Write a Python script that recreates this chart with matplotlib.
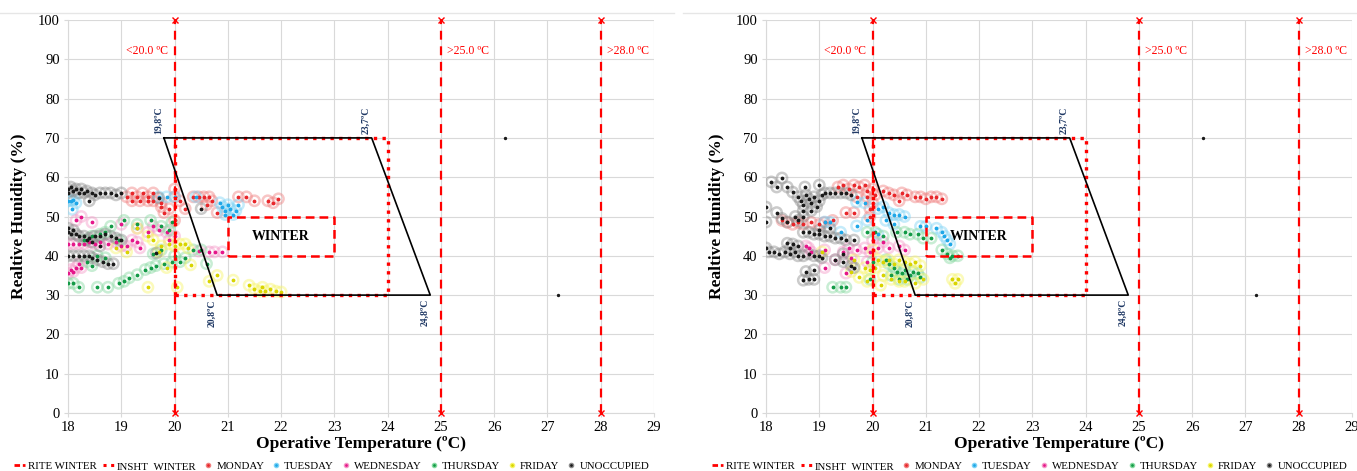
import numpy as np
import matplotlib
matplotlib.use("Agg")
import matplotlib.pyplot as plt
from matplotlib.lines import Line2D

plt.rcParams['font.family'] = ['Liberation Serif', 'DejaVu Serif']

# ---- data: left panel ----
L_mon_x = [19.1, 19.2, 19.3, 19.4, 19.5, 19.6, 19.5, 19.2, 19.35, 19.6, 19.75, 19.75, 19.8, 20.0, 20.1, 20.35,
           20.45, 20.55, 20.65, 20.7, 20.6, 21.2, 21.35, 21.5, 21.75, 21.85, 21.95, 20.2, 20.8, 20.0, 20.0, 19.9]
L_mon_y = [55, 56, 55, 56, 55, 56, 54, 54, 54, 54, 52.5, 53.5, 51, 55, 54, 55,
           55, 55, 55, 54, 53, 55, 55, 54, 54, 53.5, 54.5, 52, 51, 57, 49, 52]
L_tue_x = [18.0, 18.05, 18.1, 18.15, 18.08, 19.7, 19.85, 20.0, 20.4, 20.85, 20.9, 20.95, 21.0, 21.05, 21.1, 21.15, 21.2, 20.95]
L_tue_y = [54, 54, 54.2, 53.5, 51.8, 55, 55, 55, 55, 53.5, 52.5, 51.5, 53, 52, 50.5, 51.5, 53, 50.5]
L_wed_x = [18.0, 18.1, 18.2, 18.3, 18.4, 18.5, 18.6, 18.75, 18.9, 19.0, 19.1, 19.2, 19.3, 19.35,
           18.0, 18.05, 18.1, 18.15, 18.2, 18.25, 18.15, 18.25, 18.45,
           19.0, 19.3, 19.5, 19.7, 19.85, 19.9, 20.0, 20.65, 20.75, 20.9, 20.45, 19.6]
L_wed_y = [43, 43, 43, 43, 43.5, 43, 43.5, 43, 43.5, 42.5, 42.5, 44, 43.5, 42,
           35.5, 36.5, 36, 37, 38, 37, 49, 50, 48.5,
           48, 47, 46, 46.5, 46, 44, 45, 41, 41, 41, 41.2, 47.5]
L_thu_x = [18.0, 18.1, 18.2, 18.55, 18.75, 18.95, 19.05, 19.15, 19.3, 19.45, 19.55, 19.65, 19.8, 19.95, 20.1,
           20.6, 20.2, 20.35, 20.5, 19.6, 18.3, 18.45, 18.6, 18.7, 18.8, 18.95, 19.05, 19.3, 19.55, 19.75,
           19.9, 18.55, 18.7, 18.45, 18.35, 19.95, 19.75, 20.0]
L_thu_y = [33, 33, 32, 32, 32, 33, 33.5, 34.4, 35.2, 36.5, 37, 37.5, 38, 38.4, 38.5,
           38, 39.5, 41.5, 41.5, 40.5, 44, 45, 45.5, 46, 47.5, 44, 49, 48, 49, 47.5,
           46.5, 40, 39.5, 37.5, 38.5, 48.5, 41.5, 40]
L_fri_x = [19.3, 19.5, 19.6, 19.75, 19.9, 20.0, 20.1, 20.2, 20.25, 19.7, 20.3, 19.5, 20.8, 21.1, 21.4, 21.5,
           21.6, 21.7, 21.8, 21.9, 22.0, 21.65, 19.85, 20.05, 20.65, 19.1, 18.9]
L_fri_y = [47, 45, 44, 42.5, 43, 42.5, 43, 43, 42, 41, 37.7, 32, 35, 33.8, 32.5, 31.5,
           31, 31, 31.5, 31, 30.8, 32, 37, 32, 33.5, 41, 42]
L_uno_x = [18.0, 18.0, 18.05, 18.1, 18.15, 18.2, 18.25, 18.3, 18.35, 18.45, 18.5, 18.6, 18.7, 18.8, 18.9, 18.4,
           19.0, 19.7, 20.5,
           18.0, 18.0, 18.05, 18.1, 18.15, 18.2, 18.3, 18.35, 18.4, 18.5, 18.6, 18.7, 18.8, 18.9, 19.0, 18.45, 18.6,
           18.0, 18.1, 18.2, 18.3, 18.4, 18.45, 18.55, 18.65, 18.75, 18.85, 19.66]
L_uno_y = [57, 56, 57.5, 56.5, 57, 56, 57, 56, 56.5, 56, 55.5, 56, 56, 56, 55.5, 54,
           56, 54.7, 52,
           47, 46, 45.5, 46.5, 45.5, 45, 45, 44, 44.5, 45, 45, 45.5, 45, 44.5, 44, 43.5, 42.5,
           40, 40, 40, 40, 40, 39.5, 39, 38.5, 38, 38, 40.7]
# isolated unoccupied readings (drawn as plain dots)
L_out_x = [26.2, 27.2]
L_out_y = [70, 30]

# ---- data: right panel ----
R_mon_x = [19.35, 19.45, 19.55, 19.65, 19.75, 19.85, 19.9, 20.0, 19.7, 19.9, 20.05, 20.2, 20.3, 20.4, 20.55,
           20.65, 20.8, 20.9, 21.0, 21.1, 21.2, 21.3, 20.5, 19.5, 19.65, 18.4, 18.5, 18.6, 18.7, 18.85,
           19.0, 19.1, 19.25, 18.3, 19.95, 19.95, 20.0]
R_mon_y = [57.5, 58, 57, 58, 57.5, 58, 56.5, 57, 55, 55, 55.5, 56.5, 56, 55.5, 56,
           55.5, 55, 55, 54.5, 55, 55, 54.5, 54, 51, 51, 48.5, 48, 48.5, 48, 48.5,
           48, 48.5, 49, 49, 52, 50, 53.5]
R_tue_x = [19.7, 19.85, 19.1, 19.2, 19.7, 20.1, 20.2, 20.3, 20.4, 20.5, 20.6, 20.25, 20.4, 20.9, 21.0, 21.2,
           21.3, 21.35, 21.4, 21.45, 19.4, 20.1, 19.9]
R_tue_y = [53.7, 53.5, 48.6, 48.5, 47.6, 52, 52.5, 51, 50.5, 50.5, 50, 49, 48, 47.5, 47.5, 47,
           46, 45, 44, 43, 46, 45.5, 49]
R_wed_x = [18.8, 18.85, 19.1, 19.45, 19.55, 19.7, 19.85, 19.95, 20.1, 20.3, 20.5, 20.6, 19.5, 19.1, 19.3,
           19.6, 18.75, 20.2, 20.0, 19.9]
R_wed_y = [42, 41, 41.5, 41, 42, 41.5, 42, 41, 42, 42, 42.5, 41.5, 35.6, 37, 39,
           39.5, 42.5, 43.5, 44, 38.5]
R_thu_x = [19.25, 19.4, 19.5, 19.9, 20.05, 20.2, 20.45, 20.6, 20.7, 20.85, 20.95, 21.1, 21.3, 21.4, 21.5,
           21.6, 21.45, 20.3, 20.4, 20.45, 20.55, 20.6, 20.7, 20.75, 20.85, 20.9, 20.65, 20.5, 20.35,
           19.95, 20.25, 20.0]
R_thu_y = [32, 32, 32, 46, 46, 45, 46, 46, 45.5, 45.5, 44.5, 44.5, 41.5, 40.5, 40,
           40, 39.5, 38, 37, 36, 35.5, 36.5, 35, 36, 35.5, 34.5, 34, 34, 35,
           34, 39, 38.5]
R_fri_x = [19.05, 19.85, 19.95, 20.05, 20.1, 20.2, 20.3, 20.4, 20.5, 20.6, 20.7, 20.8, 20.9, 20.2, 20.35,
           20.5, 20.6, 20.8, 20.95, 21.5, 21.55, 21.6, 19.6, 19.75, 19.9, 20.0, 19.65, 20.15]
R_fri_y = [41, 37, 36.5, 37, 39, 38.5, 39, 38, 39, 38.5, 38, 38.5, 37.5, 35, 34,
           33.5, 33.5, 33, 34, 34, 33, 34, 36, 34.5, 33.5, 41.5, 39, 32.5]
R_uno_x = [18.1, 18.3, 18.2, 18.4, 18.5, 18.73, 19.0,
           18.6, 18.65, 18.7, 18.75, 18.8, 18.85, 18.9, 18.95, 19.0, 19.05, 18.85, 18.7, 19.1, 19.2, 19.3,
           19.4, 19.5, 19.6,
           18.0, 18.0, 18.2, 18.3, 18.4, 18.55, 18.7, 18.6,
           18.7, 18.8, 18.9, 19.0, 19.1, 19.2, 19.3, 19.4, 19.5, 19.65, 19.0, 19.2,
           18.0, 18.05, 18.15, 18.25, 18.35, 18.45, 18.55, 18.6, 18.7, 18.8, 18.9, 19.0, 19.05, 18.4, 18.5,
           18.6, 18.45,
           19.3, 19.45, 19.6, 19.65, 18.7, 18.8, 18.9, 18.9, 18.75, 19.45]
R_uno_y = [58.8, 59.8, 57.5, 57.5, 56.2, 57.5, 58,
           55, 54, 53, 55.5, 54.5, 53.5, 55, 52.5, 54, 55.5, 51.5, 51.5, 56, 56, 56,
           56, 56, 55.5,
           52.4, 48.6, 51, 49.5, 48.6, 50, 50, 49,
           46, 46, 45.5, 45.5, 45, 45, 44.5, 44.5, 44, 44, 46.5, 47,
           42, 41, 41, 40.5, 41, 40.5, 41, 40, 40, 40.5, 40, 40, 39.5, 43.2, 43,
           42.5, 42,
           39, 38.5, 37.5, 37, 33.8, 34, 34, 36.4, 36, 40.5]
R_out_x = [26.2, 27.2]
R_out_y = [70, 30]

# comfort zone polygon and reference boxes
zone_x = [19.8, 23.7, 24.8, 20.8, 19.8]
zone_y = [70, 70, 30, 30, 70]
insht_x = [20, 24, 24, 20, 20]
insht_y = [30, 30, 70, 70, 30]
winter_x = [21, 23, 23, 21, 21]
winter_y = [40, 40, 50, 50, 40]
rite_lines = [20, 25, 28]
rite_labels = ["<20.0 ºC", ">25.0 ºC", ">28.0 ºC"]

day_names = ["MONDAY", "TUESDAY", "WEDNESDAY", "THURSDAY", "FRIDAY", "UNOCCUPIED"]
ring_cols = ["#f08080", "#7fd3f5", "#f59ac8", "#86d9a0", "#f7f56a", "#8c8c8c"]
dot_cols = ["#e8262a", "#1ea7e8", "#e5168a", "#129a46", "#d8d400", "#1a1a1a"]
navy = "#1f3864"
red = "#ff0000"

panels = [
    ([(L_mon_x, L_mon_y), (L_tue_x, L_tue_y), (L_wed_x, L_wed_y),
      (L_thu_x, L_thu_y), (L_fri_x, L_fri_y), (L_uno_x, L_uno_y)], (L_out_x, L_out_y)),
    ([(R_mon_x, R_mon_y), (R_tue_x, R_tue_y), (R_wed_x, R_wed_y),
      (R_thu_x, R_thu_y), (R_fri_x, R_fri_y), (R_uno_x, R_uno_y)], (R_out_x, R_out_y)),
]

fig = plt.figure(figsize=(13.57, 4.71), dpi=100)
lefts = [68 / 1357, 766 / 1357]

for k, (series, outl) in enumerate(panels):
    ax = fig.add_axes([lefts[k], 58 / 471, 586 / 1357, 393 / 471])

    ax.set_xlim(18, 29)
    ax.set_ylim(0, 100)
    ax.set_xticks(range(18, 30))
    ax.set_yticks(range(0, 101, 10))
    ax.grid(color="#d9d9d9", lw=0.8)
    ax.set_axisbelow(True)
    for s in ["top", "right"]:
        ax.spines[s].set_visible(False)
    for s in ["left", "bottom"]:
        ax.spines[s].set_color("#d9d9d9")
    ax.tick_params(length=3, color="#d9d9d9", labelsize=10.5, pad=3)

    # data points: light ring + small centre dot
    for (xs, ys), rc, dc in zip(series, ring_cols, dot_cols):
        ax.scatter(xs, ys, s=55, facecolors="none", edgecolors=rc, alpha=0.45, lw=1.8, zorder=3)
        ax.scatter(xs, ys, s=3, color=dc, zorder=4)
    ax.scatter(outl[0], outl[1], s=2, color="#1a1a1a", zorder=4)

    # RITE limits
    for xv, lab in zip(rite_lines, rite_labels):
        ax.plot([xv, xv], [0, 100], color=red, ls=(0, (4, 3)), lw=1.6, zorder=5)
        ax.plot([xv, xv], [0, 100], ls="none", color=red, marker="x", ms=4, mew=1, zorder=5, clip_on=False)
        if xv == 20:
            ax.text(xv - 0.12, 92, lab, color=red, fontsize=8.5, ha="right", va="center")
        else:
            ax.text(xv + 0.12, 92, lab, color=red, fontsize=8.5, ha="left", va="center")

    ax.plot(insht_x, insht_y, color=red, ls=(0, (1, 1.6)), lw=2.4, zorder=5)
    ax.plot(zone_x, zone_y, color="black", lw=1.2, zorder=6)
    ax.plot(winter_x, winter_y, color=red, ls=(0, (3.5, 2)), lw=1.8, zorder=5)
    ax.text(22.0, 45, "WINTER", fontsize=10, fontweight="bold", ha="center", va="center", zorder=7)

    # corner labels
    ax.text(19.7, 71, "19,8ºC", color=navy, fontsize=7, fontweight="bold", rotation=90, ha="center", va="bottom")
    ax.text(23.6, 71, "23,7ºC", color=navy, fontsize=7, fontweight="bold", rotation=90, ha="center", va="bottom")
    ax.text(20.7, 29, "20,8ºC", color=navy, fontsize=7, fontweight="bold", rotation=90, ha="center", va="top")
    ax.text(24.7, 29, "24,8ºC", color=navy, fontsize=7, fontweight="bold", rotation=90, ha="center", va="top")

    ax.set_xlabel("Operative Temperature (ºC)", fontsize=12.5, fontweight="bold", labelpad=1)
    ax.set_ylabel("Realtive Hunidity (%)", fontsize=12.5, fontweight="bold", labelpad=8)

    # legend
    handles = [
        Line2D([], [], color=red, ls=(0, (2, 1)), lw=2),
        Line2D([], [], color=red, ls=(0, (1, 1.5)), lw=2.2),
    ]
    for rc, dc in zip(ring_cols, dot_cols):
        handles.append(Line2D([], [], ls="none", marker="o", ms=3, mfc=dc, mec=rc, mew=1))
    labels = ["RITE WINTER", "INSHT_WINTER"] + day_names
    ax.legend(handles, labels, loc="center", bbox_to_anchor=(0.45, -0.135), ncol=8, frameon=False,
              fontsize=7.8, handlelength=1.0, handletextpad=0.25, columnspacing=0.6, borderaxespad=0,
              borderpad=0)

# faint top border line
fig.add_artist(Line2D([0.0, 0.497], [0.972, 0.972], color="#e6e6e6", lw=1))
fig.add_artist(Line2D([0.503, 1.0], [0.972, 0.972], color="#e6e6e6", lw=1))

fig.savefig("out.png", dpi=100)
